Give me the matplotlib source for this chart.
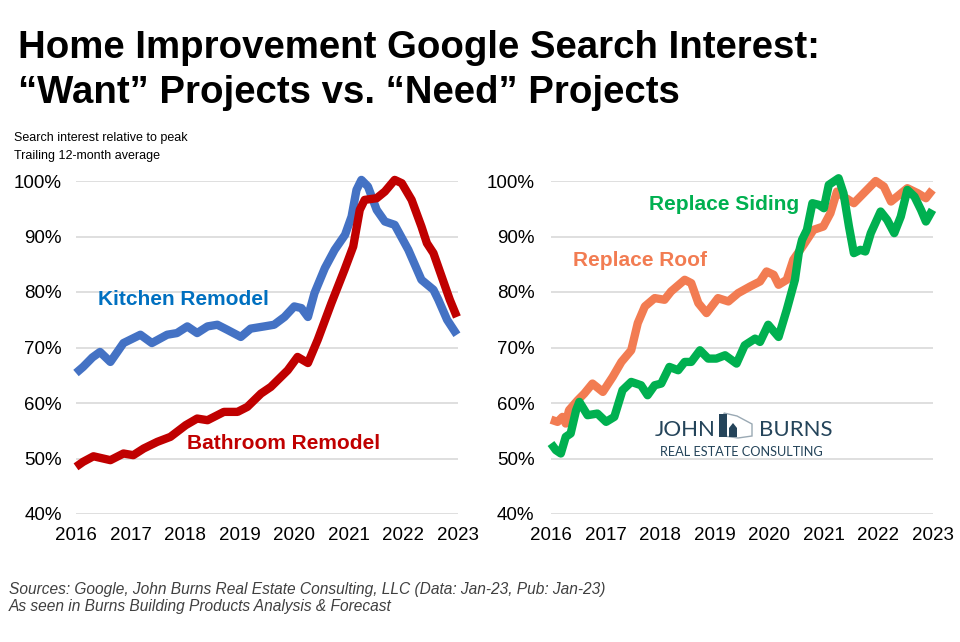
import matplotlib
matplotlib.use("Agg")
import matplotlib.pyplot as plt
from matplotlib.patches import Polygon, Rectangle
from matplotlib.ticker import FuncFormatter

# ---------------- data ----------------
kitchen_t = [2016.0, 2016.13, 2016.3, 2016.44, 2016.63, 2016.87, 2017.18, 2017.39, 2017.67, 2017.85,
             2018.04, 2018.22, 2018.41, 2018.59, 2018.77, 2019.02, 2019.2, 2019.45, 2019.63, 2019.82,
             2020.0, 2020.13, 2020.25, 2020.37, 2020.56, 2020.74, 2020.93, 2021.05, 2021.14, 2021.23,
             2021.35, 2021.51, 2021.66, 2021.84, 2022.09, 2022.33, 2022.55, 2022.64, 2022.80, 2022.98]
kitchen_v = [65.4, 66.5, 68.2, 69.2, 67.4, 70.8, 72.3, 70.8, 72.3, 72.6,
             73.8, 72.6, 73.8, 74.1, 73.2, 71.9, 73.4, 73.8, 74.1, 75.5,
             77.4, 77.1, 75.5, 79.8, 84.3, 87.6, 90.3, 93.6, 98.4, 100.2,
             99.0, 94.8, 92.7, 92.1, 87.6, 82.2, 80.4, 78.6, 75.0, 72.3]

bath_t = [2016.0, 2016.13, 2016.32, 2016.63, 2016.87, 2017.05, 2017.24, 2017.49, 2017.73, 2018.01,
          2018.22, 2018.41, 2018.71, 2018.96, 2019.14, 2019.39, 2019.57, 2019.88, 2020.06, 2020.25,
          2020.43, 2020.68, 2020.92, 2021.08, 2021.2, 2021.29, 2021.51, 2021.66, 2021.84, 2021.97,
          2022.15, 2022.33, 2022.43, 2022.55, 2022.70, 2022.85, 2022.98]
bath_v = [48.5, 49.4, 50.4, 49.7, 50.9, 50.6, 51.8, 53.0, 53.9, 56.0,
          57.2, 56.9, 58.4, 58.4, 59.3, 61.7, 62.9, 65.9, 68.3, 67.2,
          71.4, 78.0, 84.0, 88.2, 94.8, 96.6, 96.9, 98.1, 100.2, 99.6,
          96.6, 91.8, 88.8, 87.0, 82.8, 78.6, 75.5]

roof_t = [2016.0, 2016.12, 2016.21, 2016.27, 2016.33, 2016.49, 2016.61, 2016.76, 2016.95, 2017.13,
          2017.29, 2017.47, 2017.59, 2017.72, 2017.90, 2018.08, 2018.2, 2018.45, 2018.57, 2018.70,
          2018.85, 2019.06, 2019.25, 2019.43, 2019.65, 2019.83, 2019.95, 2020.08, 2020.17, 2020.32,
          2020.44, 2020.63, 2020.81, 2020.99, 2021.12, 2021.24, 2021.36, 2021.55, 2021.73, 2021.95,
          2022.10, 2022.23, 2022.38, 2022.53, 2022.72, 2022.87, 2022.99]
roof_v = [57.0, 56.6, 57.5, 56.3, 58.7, 60.5, 61.7, 63.5, 62.0, 64.7,
          67.4, 69.5, 74.4, 77.4, 78.9, 78.6, 80.1, 82.2, 81.6, 78.0,
          76.2, 78.9, 78.3, 79.8, 81.0, 81.9, 83.7, 83.1, 81.3, 82.2,
          85.8, 88.5, 91.2, 91.8, 94.2, 98.1, 97.2, 96.0, 97.8, 100.0,
          99.0, 96.3, 97.5, 98.7, 97.8, 96.9, 98.4]

siding_t = [2016.0, 2016.09, 2016.18, 2016.27, 2016.36, 2016.46, 2016.52, 2016.67, 2016.85, 2017.01,
            2017.16, 2017.31, 2017.47, 2017.65, 2017.77, 2017.90, 2018.02, 2018.17, 2018.33, 2018.45,
            2018.57, 2018.73, 2018.88, 2019.03, 2019.19, 2019.40, 2019.55, 2019.74, 2019.83, 2019.98,
            2020.17, 2020.32, 2020.47, 2020.54, 2020.60, 2020.69, 2020.79, 2020.91, 2021.0, 2021.09,
            2021.27, 2021.36, 2021.46, 2021.55, 2021.67, 2021.76, 2021.86, 2022.04, 2022.16, 2022.29,
            2022.41, 2022.53, 2022.66, 2022.78, 2022.87, 2022.99]
siding_v = [52.7, 51.5, 50.9, 53.9, 54.5, 58.7, 60.2, 57.8, 58.1, 56.6,
            57.5, 62.3, 63.8, 63.2, 61.4, 63.2, 63.5, 66.5, 65.9, 67.4,
            67.4, 69.5, 68.0, 68.0, 68.6, 67.1, 70.4, 71.6, 71.0, 74.1,
            71.9, 76.8, 82.2, 87.0, 89.4, 91.2, 96.0, 95.7, 95.1, 99.3,
            100.5, 97.8, 91.8, 87.0, 87.6, 87.3, 90.6, 94.5, 93.0, 90.6,
            93.6, 98.4, 97.2, 94.8, 92.7, 94.8]

years = [2016, 2017, 2018, 2019, 2020, 2021, 2022, 2023]
y_ticks = [40, 50, 60, 70, 80, 90, 100]

title_lines = ["Home Improvement Google Search Interest:", "\u201cWant\u201d Projects vs. \u201cNeed\u201d Projects"]
subtitle_lines = ["Search interest relative to peak", "Trailing 12-month average"]
footer_lines = ["Sources: Google, John Burns Real Estate Consulting, LLC (Data: Jan-23, Pub: Jan-23)",
                "As seen in Burns Building Products Analysis & Forecast"]

# ---------------- style ----------------
plt.rcParams['font.family'] = ['Liberation Sans', 'DejaVu Sans']

C_BLUE = '#4472C4'
C_RED = '#C00000'
C_ORANGE = '#F27C52'
C_GREEN = '#00B050'

fig = plt.figure(figsize=(9.6, 6.42), dpi=100)
W, H = 960, 642

def fx(px):
    return px / W

def fy(py):
    return 1 - py / H

# Title & subtitle
fig.text(fx(18), fy(58), title_lines[0], fontsize=27.6, fontweight='bold',
         ha='left', va='baseline', color='black')
fig.text(fx(18), fy(103), title_lines[1], fontsize=27.6, fontweight='bold',
         ha='left', va='baseline', color='black')
fig.text(fx(14), fy(141), subtitle_lines[0], fontsize=9, ha='left', va='baseline')
fig.text(fx(14), fy(159), subtitle_lines[1], fontsize=9, ha='left', va='baseline')

# Footer
fig.text(fx(9), fy(594), footer_lines[0], fontsize=11.2, style='italic', color='#404040',
         ha='left', va='baseline')
fig.text(fx(9), fy(611), footer_lines[1], fontsize=11.2, style='italic', color='#404040',
         ha='left', va='baseline')

def setup(ax, ypad):
    ax.set_xlim(2016, 2023)
    ax.set_ylim(40, 100)
    ax.set_xticks(years)
    ax.set_xticklabels([str(y) for y in years])
    ax.set_yticks(y_ticks)
    ax.yaxis.set_major_formatter(FuncFormatter(lambda v, p: f"{v:.0f}%"))
    for s in ax.spines.values():
        s.set_visible(False)
    ax.grid(axis='y', color='#D9D9D9', linewidth=1.2)
    ax.set_axisbelow(True)
    ax.tick_params(axis='both', length=0, labelsize=13.5, colors='#000000')
    ax.tick_params(axis='x', pad=9)
    ax.tick_params(axis='y', pad=ypad)
    ax.set_facecolor('none')

axL = fig.add_axes([fx(76), fy(514), fx(458 - 76), (514 - 181) / H])
axR = fig.add_axes([fx(551), fy(514), fx(933 - 551), (514 - 181) / H])
setup(axL, 10)
setup(axR, 12)

LW = 6
axL.plot(bath_t, bath_v, color=C_RED, lw=LW, solid_joinstyle='round', solid_capstyle='butt', clip_on=False, zorder=3)
axL.plot(kitchen_t, kitchen_v, color=C_BLUE, lw=LW, solid_joinstyle='round', solid_capstyle='butt', clip_on=False, zorder=2)
axR.plot(roof_t, roof_v, color=C_ORANGE, lw=LW, solid_joinstyle='round', solid_capstyle='butt', clip_on=False, zorder=2)
axR.plot(siding_t, siding_v, color=C_GREEN, lw=LW, solid_joinstyle='round', solid_capstyle='butt', clip_on=False, zorder=3)

# series labels
fig.text(fx(98), fy(305), "Kitchen Remodel", fontsize=15, fontweight='bold', color='#0070C0', ha='left', va='baseline')
fig.text(fx(187), fy(449), "Bathroom Remodel", fontsize=15, fontweight='bold', color=C_RED, ha='left', va='baseline')
fig.text(fx(649), fy(210), "Replace Siding", fontsize=15, fontweight='bold', color=C_GREEN, ha='left', va='baseline')
fig.text(fx(573), fy(266), "Replace Roof", fontsize=15, fontweight='bold', color=C_ORANGE, ha='left', va='baseline')

# logo
LOGO = '#24445A'
LOGO_FONT = ['Lato', 'DejaVu Sans']
fig.text(fx(655), fy(436), "JOHN", fontsize=16, family=LOGO_FONT, color=LOGO, ha='left', va='baseline')
fig.text(fx(759), fy(436), "BURNS", fontsize=16, family=LOGO_FONT, color=LOGO, ha='left', va='baseline')
fig.text(fx(660), fy(456), "REAL ESTATE CONSULTING", fontsize=9.2, family=LOGO_FONT, color=LOGO, ha='left', va='baseline')
# icon
pts_outline = [(fx(724), fy(413)), (fx(737), fy(416)), (fx(752), fy(424)), (fx(752), fy(436)),
               (fx(738), fy(438)), (fx(724), fy(436))]
fig.patches.append(Polygon(pts_outline, closed=True, facecolor='white', edgecolor='#9AA9B4', lw=1.0,
                           transform=fig.transFigure, figure=fig))
fig.patches.append(Rectangle((fx(719), fy(437)), fx(8), (437 - 414) / H, facecolor=LOGO, edgecolor='none',
                             transform=fig.transFigure, figure=fig))
fig.patches.append(Polygon([(fx(729), fy(437)), (fx(729), fy(428)), (fx(733), fy(423)), (fx(737), fy(428)),
                            (fx(737), fy(437))], closed=True, facecolor=LOGO, edgecolor='none',
                           transform=fig.transFigure, figure=fig))

fig.savefig("out.png", dpi=100)
